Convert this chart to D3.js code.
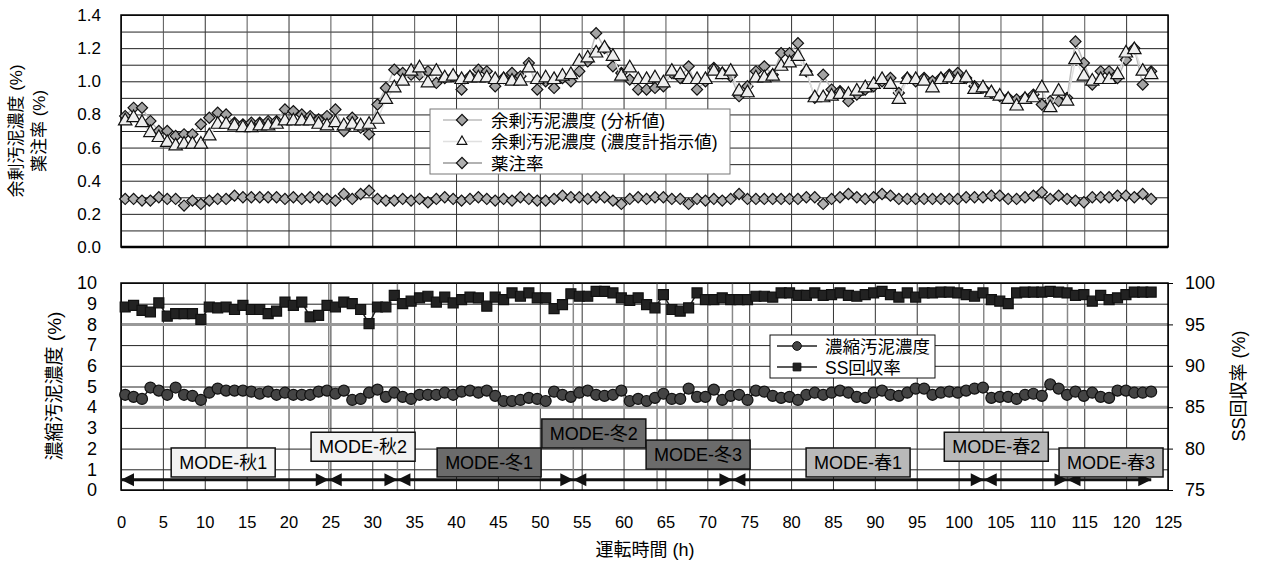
<!DOCTYPE html>
<html>
<head>
<meta charset="utf-8">
<script src="https://cdn.jsdelivr.net/npm/d3@7"></script>
<style>
  body { margin: 0; background: #fff; }
  svg text { font-family: "Liberation Sans", Arial, "Noto Sans CJK JP", sans-serif; fill: #000; }
</style>
</head>
<body>
<div id="chart"></div>
<script>
// top panel series (index = hour sample)
const bunseki = [
  0.79,0.84,0.84,0.76,0.70,0.70,0.67,0.68,0.68,0.74,
  0.78,0.81,0.80,0.75,0.74,0.75,0.75,0.76,0.76,0.83,
  0.82,0.80,0.79,0.77,0.79,0.83,0.70,0.78,0.72,0.68,
  0.86,0.96,1.07,1.05,1.04,1.04,1.06,0.99,1.02,1.03,
  0.95,1.03,1.07,1.06,0.97,1.02,1.05,1.03,1.11,0.95,
  1.00,0.96,1.02,1.00,1.06,1.12,1.29,1.20,1.09,1.05,
  1.01,0.95,0.95,0.96,0.97,1.05,1.02,1.09,0.95,1.00,
  1.08,1.05,1.03,0.91,0.97,1.06,1.09,1.04,1.17,1.17,
  1.23,1.06,0.90,1.04,0.95,0.94,0.88,0.92,0.95,0.97,
  1.00,1.02,0.93,1.02,1.00,1.02,1.00,1.02,1.04,1.05,
  1.02,0.97,0.96,0.93,0.91,0.90,0.89,0.90,0.92,0.86,
  0.88,0.88,0.90,1.24,1.11,0.98,1.06,1.06,1.02,1.13,
  1.20,0.98,1.06
];
const noudokei = [
  0.76,0.78,0.75,0.69,0.66,0.63,0.61,0.62,0.62,0.62,
  0.67,0.74,0.74,0.73,0.72,0.72,0.73,0.73,0.74,0.76,
  0.76,0.76,0.76,0.74,0.73,0.75,0.73,0.74,0.73,0.74,
  0.77,0.89,0.96,1.00,1.06,1.08,0.99,1.06,1.02,1.03,
  1.01,1.02,1.02,1.02,1.01,1.01,1.00,1.00,1.08,1.01,
  1.02,1.01,1.03,1.04,1.12,1.14,1.17,1.20,1.15,1.03,
  1.08,1.01,1.01,1.02,0.99,1.06,1.04,1.01,1.01,1.01,
  1.06,1.04,1.06,0.94,0.93,1.02,1.02,1.03,1.09,1.11,
  1.15,1.06,0.90,0.90,0.91,0.92,0.92,0.94,0.96,0.98,
  1.01,0.98,0.89,1.01,1.01,1.00,0.96,1.01,1.02,1.01,
  1.02,0.95,0.96,0.93,0.91,0.89,0.85,0.89,0.90,0.96,
  0.84,0.94,0.88,1.13,1.03,1.00,1.01,1.01,1.04,1.17,
  1.19,1.06,1.04
];
const yakuchu = [
  0.29,0.29,0.28,0.28,0.30,0.29,0.29,0.25,0.28,0.26,
  0.28,0.29,0.29,0.31,0.30,0.30,0.30,0.30,0.30,0.29,
  0.30,0.29,0.30,0.30,0.29,0.28,0.32,0.29,0.32,0.34,
  0.29,0.28,0.28,0.29,0.28,0.29,0.27,0.29,0.30,0.29,
  0.28,0.29,0.30,0.29,0.28,0.29,0.28,0.30,0.29,0.28,
  0.28,0.29,0.31,0.30,0.30,0.29,0.30,0.30,0.28,0.26,
  0.29,0.30,0.29,0.30,0.30,0.29,0.29,0.26,0.29,0.28,
  0.29,0.28,0.29,0.32,0.29,0.29,0.29,0.29,0.29,0.29,
  0.29,0.30,0.30,0.26,0.29,0.30,0.32,0.30,0.29,0.30,
  0.32,0.31,0.29,0.29,0.29,0.29,0.29,0.29,0.29,0.29,
  0.30,0.30,0.30,0.31,0.31,0.29,0.29,0.30,0.31,0.33,
  0.29,0.31,0.29,0.28,0.27,0.30,0.30,0.30,0.31,0.31,
  0.30,0.32,0.29
];
// bottom panel series
const noushuku = [
  4.60,4.50,4.40,4.95,4.80,4.60,4.95,4.60,4.55,4.35,
  4.70,4.90,4.80,4.80,4.80,4.75,4.65,4.75,4.60,4.70,
  4.60,4.60,4.60,4.75,4.80,4.65,4.80,4.35,4.40,4.70,
  4.85,4.50,4.70,4.50,4.40,4.60,
  4.60,4.60,4.70,4.60,4.75,4.80,4.70,4.80,4.55,4.30,
  4.30,4.35,4.45,4.40,4.30,4.75,4.60,4.50,4.70,4.80,
  4.60,4.55,4.60,4.80,4.30,4.40,4.30,4.45,4.65,4.40,
  4.40,4.90,4.50,4.50,4.85,4.35,4.55,4.60,4.35,4.80,
  4.75,4.55,4.45,4.50,4.35,4.60,4.70,4.60,4.70,4.80,
  4.70,4.50,4.45,4.70,4.80,4.60,4.55,4.70,4.90,4.90,
  4.60,4.70,4.75,4.70,4.80,4.90,4.95,4.45,4.50,4.50,
  4.40,4.60,4.65,4.55,5.10,4.90,4.60,4.75,4.55,4.70,
  4.50,4.45,4.80,4.80,4.70,4.70,4.75
];
const ssRate = [
  97.1,97.3,96.7,96.5,97.6,96.0,96.3,96.3,96.3,95.6,
  97.1,97.0,97.1,96.8,97.3,96.8,96.8,96.3,96.6,97.7,
  97.3,97.7,95.9,96.1,97.3,97.1,97.7,97.5,96.8,95.1,
  97.1,97.1,98.5,97.5,97.8,98.2,
  98.4,97.7,98.3,97.6,98.0,98.3,98.2,97.2,98.3,98.0,
  98.8,98.4,98.8,98.2,98.2,96.9,97.4,98.7,98.4,98.4,
  99.0,99.0,98.8,98.2,97.9,98.2,97.4,97.0,98.6,96.8,
  96.6,97.0,98.8,98.0,98.0,98.2,98.0,98.0,98.0,98.4,
  98.4,98.3,98.8,98.8,98.5,98.5,98.8,98.5,98.6,98.8,
  98.5,98.4,98.6,98.8,99.0,98.6,98.3,98.8,98.3,98.8,
  98.8,98.9,98.9,98.8,98.6,98.4,98.8,98.0,97.8,97.5,
  98.8,98.9,98.9,98.9,99.0,98.9,98.8,98.5,98.6,97.8,
  98.5,98.0,98.2,98.6,98.9,98.9,98.9
];
// sampling hours
const hours = d3.range(bunseki.length).map(i => 0.5 + i * 1.004);

// operating modes
const modeBounds = [0, 24.8, 33, 54, 73, 103, 113, 123];
const modeBoundLines = [24.8, 33, 54, 64, 73, 103, 113];
const modeNames = ["MODE-秋1","MODE-秋2","MODE-冬1","MODE-冬2","MODE-冬3","MODE-春1","MODE-春2","MODE-春3"];
const modeLabelX = [12.2, 28.9, 43.95, 56.45, 68.9, 88.0, 104.5, 118.2];
const modeLabelY = [1.33, 2.09, 1.33, 2.73, 1.71, 1.33, 2.09, 1.33];
const modeFill = ["#f2f2f2","#f2f2f2","#6b6b6b","#6b6b6b","#6b6b6b","#b9b9b9","#b9b9b9","#b9b9b9"];

const topTicks = [0, 0.2, 0.4, 0.6, 0.8, 1.0, 1.2, 1.4];
const botTicks = d3.range(0, 11);
const rightTicks = [75, 80, 85, 90, 95, 100];
const xTicks = d3.range(0, 126, 5);

const W = 1264, H = 564;
const svg = d3.select('#chart').append('svg').attr('width', W).attr('height', H);

const x = d3.scaleLinear([0, 125], [121, 1168]);
const yTop = d3.scaleLinear([0, 1.4], [247, 15]);
const yBot = d3.scaleLinear([0, 10], [490, 283]);
const yR = d3.scaleLinear([75, 100], [490, 283]);

// ---------- top panel ----------
const gTop = svg.append('g');
gTop.append('g').attr('transform', 'translate(121,0)')
  .call(d3.axisLeft(yTop).tickValues(d3.range(0, 15).map(d => d / 10)).tickSize(-1047).tickFormat(''))
  .call(g => g.select('.domain').remove())
  .call(g => g.selectAll('line').attr('stroke', '#222').attr('stroke-width', 1));
gTop.append('g').attr('transform', 'translate(0,247)')
  .call(d3.axisBottom(x).tickValues(xTicks).tickSize(-232).tickFormat(''))
  .call(g => g.select('.domain').remove())
  .call(g => g.selectAll('line').attr('stroke', (d, i) => i % 2 ? '#555' : '#333').attr('stroke-width', 1));
gTop.append('rect').attr('x', 121).attr('y', 15).attr('width', 1047).attr('height', 232)
  .attr('fill', 'none').attr('stroke', '#000').attr('stroke-width', 1.5);
gTop.append('line').attr('x1', 121).attr('x2', 1168).attr('y1', 247).attr('y2', 247)
  .attr('stroke', '#000').attr('stroke-width', 2.5);
gTop.append('g').attr('transform', 'translate(121,0)')
  .call(d3.axisLeft(yTop).tickValues(topTicks).tickSize(0).tickPadding(20).tickFormat(d3.format('.1f')))
  .call(g => g.select('.domain').remove())
  .call(g => g.selectAll('text').attr('font-size', 17).attr('font-family', null));

const diamond = d3.symbol(d3.symbolSquare, 62);
const tri = d3.symbol(d3.symbolTriangle, 78);

function drawSeries(g, vals, yS, lineColor, sym, fill, rot) {
  const line = d3.line().x((d, i) => x(hours[i])).y(d => yS(d));
  g.append('path').datum(vals).attr('d', line).attr('fill', 'none')
    .attr('stroke', lineColor).attr('stroke-width', 1.5);
  g.selectAll(null).data(vals).join('path')
    .attr('d', sym)
    .attr('transform', (d, i) => `translate(${x(hours[i])},${yS(d)}) rotate(${rot})`)
    .attr('fill', fill).attr('stroke', '#111').attr('stroke-width', 1.2);
}
drawSeries(gTop, bunseki, yTop, '#bdbdbd', diamond, '#a3a3a3', 45);
drawSeries(gTop, noudokei, yTop, '#e0e0e0', tri, '#eeeeee', 0);
drawSeries(gTop, yakuchu, yTop, '#999', diamond, '#b0b0b0', 45);

// top legend
const lg1 = svg.append('g');
lg1.append('rect').attr('x', 430).attr('y', 109).attr('width', 300).attr('height', 65)
  .attr('fill', '#fff').attr('stroke', '#777');
const leg1 = [
  {name: '余剰汚泥濃度 (分析値)', line: '#bdbdbd', sym: diamond, fill: '#a3a3a3', rot: 45},
  {name: '余剰汚泥濃度 (濃度計指示値)', line: '#e0e0e0', sym: d3.symbol(d3.symbolTriangle, 40), fill: '#fff', rot: 0},
  {name: '薬注率', line: '#999', sym: diamond, fill: '#b0b0b0', rot: 45}
];
leg1.forEach((d, i) => {
  const yy = 120 + i * 21.5;
  lg1.append('line').attr('x1', 443).attr('x2', 482).attr('y1', yy).attr('y2', yy)
    .attr('stroke', d.line).attr('stroke-width', 1.5);
  lg1.append('path').attr('d', d.sym).attr('transform', `translate(462,${yy}) rotate(${d.rot})`)
    .attr('fill', d.fill).attr('stroke', '#111').attr('stroke-width', 1.2);
  lg1.append('text').attr('x', 491).attr('y', yy + 6.5).attr('font-size', 17.5).text(d.name);
});

// ---------- bottom panel ----------
const gBot = svg.append('g');
gBot.append('g').attr('transform', 'translate(121,0)')
  .call(d3.axisLeft(yBot).tickValues(botTicks).tickSize(-1047).tickFormat(''))
  .call(g => g.select('.domain').remove())
  .call(g => g.selectAll('line').attr('stroke', '#222').attr('stroke-width', 1));
gBot.append('g').attr('transform', 'translate(0,490)')
  .call(d3.axisBottom(x).tickValues(xTicks).tickSize(-207).tickFormat(''))
  .call(g => g.select('.domain').remove())
  .call(g => g.selectAll('line').attr('stroke', '#333').attr('stroke-width', 1));
gBot.selectAll('line.bound').data(modeBoundLines).join('line').attr('class', 'bound')
  .attr('x1', d => x(d)).attr('x2', d => x(d)).attr('y1', 283).attr('y2', 490)
  .attr('stroke', '#888').attr('stroke-width', 1.5);
// target lines
gBot.selectAll('line.target').data([95, 85]).join('line').attr('class', 'target')
  .attr('x1', 121).attr('x2', 1168).attr('y1', d => yR(d)).attr('y2', d => yR(d))
  .attr('stroke', '#999').attr('stroke-width', 3);
gBot.append('rect').attr('x', 121).attr('y', 283).attr('width', 1047).attr('height', 207)
  .attr('fill', 'none').attr('stroke', '#000').attr('stroke-width', 1.5);

gBot.append('g').attr('transform', 'translate(121,0)')
  .call(d3.axisLeft(yBot).tickValues(botTicks).tickSize(0).tickPadding(24))
  .call(g => g.select('.domain').remove())
  .call(g => g.selectAll('text').attr('font-size', 18).attr('font-family', null));
gBot.append('g').attr('transform', 'translate(1168,0)')
  .call(d3.axisRight(yR).tickValues(rightTicks).tickSize(5).tickPadding(12))
  .call(g => g.select('.domain').remove())
  .call(g => g.selectAll('line').attr('stroke', '#000'))
  .call(g => g.selectAll('text').attr('font-size', 18).attr('font-family', null));
gBot.append('g').attr('transform', 'translate(0,490)')
  .call(d3.axisBottom(x).tickValues(xTicks).tickSize(0).tickPadding(26))
  .call(g => g.select('.domain').remove())
  .call(g => g.selectAll('text').attr('font-size', 16.5).attr('font-family', null));

// mode arrows
const yArrow = yBot(0.5);
gBot.append('line').attr('x1', x(modeBounds[0])).attr('x2', x(modeBounds[modeBounds.length - 1]))
  .attr('y1', yArrow).attr('y2', yArrow).attr('stroke', '#111').attr('stroke-width', 3);
const heads = [];
for (let i = 0; i < modeBounds.length - 1; i++) {
  heads.push({t: modeBounds[i], dir: -1});
  heads.push({t: modeBounds[i + 1], dir: 1});
}
gBot.selectAll('path.head').data(heads).join('path').attr('class', 'head')
  .attr('d', d => {
    const tx = x(d.t), bx = tx - d.dir * 13;
    return `M${tx},${yArrow}L${bx},${yArrow - 6.5}L${bx},${yArrow + 6.5}Z`;
  })
  .attr('fill', '#111');

// series
const circ = d3.symbol(d3.symbolCircle, 95);
const sq = d3.symbol(d3.symbolSquare, 100);
drawSeries(gBot, noushuku, yBot, '#222', circ, '#444', 0);
drawSeries(gBot, ssRate, yR, '#222', sq, '#222', 0);

// mode label boxes
const modes = modeNames.map((n, i) => ({n, t: modeLabelX[i], v: modeLabelY[i], f: modeFill[i]}));
const mg = gBot.selectAll('g.mode').data(modes).join('g').attr('class', 'mode')
  .attr('transform', d => `translate(${x(d.t)},${yBot(d.v)})`);
mg.append('rect').attr('x', -52).attr('y', -14.5).attr('width', 104).attr('height', 29)
  .attr('fill', d => d.f).attr('stroke', '#111').attr('stroke-width', 1.5);
mg.append('text').attr('text-anchor', 'middle').attr('y', 6.5).attr('font-size', 18)
  .text(d => d.n);

// bottom legend
const lg2 = svg.append('g');
lg2.append('rect').attr('x', 770).attr('y', 335).attr('width', 165).attr('height', 43)
  .attr('fill', '#fff').attr('stroke', '#111');
const leg2 = [
  {name: '濃縮汚泥濃度', sym: d3.symbol(d3.symbolCircle, 60), fill: '#444'},
  {name: 'SS回収率', sym: d3.symbol(d3.symbolSquare, 60), fill: '#222'}
];
leg2.forEach((d, i) => {
  const yy = 346 + i * 21;
  lg2.append('line').attr('x1', 777).attr('x2', 817).attr('y1', yy).attr('y2', yy)
    .attr('stroke', '#222').attr('stroke-width', 1.5);
  lg2.append('path').attr('d', d.sym).attr('transform', `translate(797,${yy})`)
    .attr('fill', d.fill).attr('stroke', '#111');
  lg2.append('text').attr('x', 825).attr('y', yy + 6.5).attr('font-size', 17.5).text(d.name);
});

// axis titles
svg.append('text').attr('transform', 'translate(22,131) rotate(-90)').attr('text-anchor', 'middle')
  .attr('font-size', 17).text('余剰汚泥濃度 (%)');
svg.append('text').attr('transform', 'translate(45,131) rotate(-90)').attr('text-anchor', 'middle')
  .attr('font-size', 17).text('薬注率 (%)');
svg.append('text').attr('transform', 'translate(61,386) rotate(-90)').attr('text-anchor', 'middle')
  .attr('font-size', 19).text('濃縮汚泥濃度 (%)');
svg.append('text').attr('transform', 'translate(1245,386) rotate(-90)').attr('text-anchor', 'middle')
  .attr('font-size', 18).text('SS回収率 (%)');
svg.append('text').attr('x', 645).attr('y', 556).attr('text-anchor', 'middle')
  .attr('font-size', 18).text('運転時間 (h)');
</script>
</body>
</html>
